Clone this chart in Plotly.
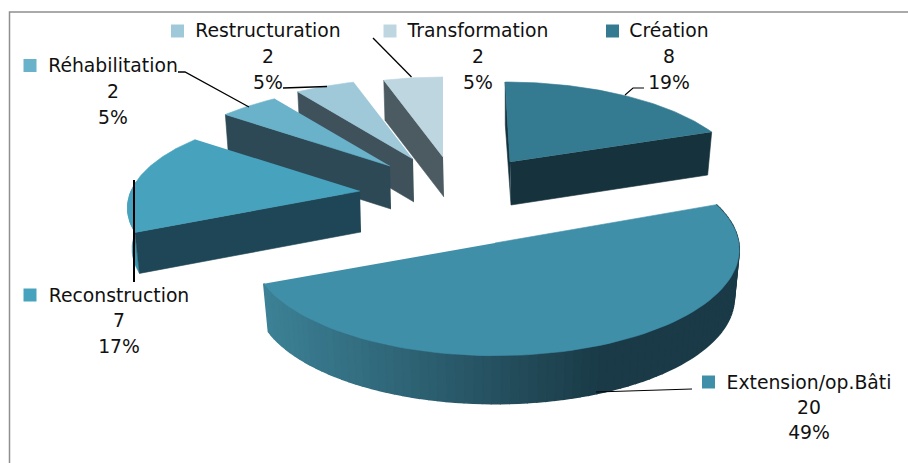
import numpy as np
import plotly.graph_objects as go

# Operations by type (clockwise from twelve o'clock)
categories = ["Création", "Extension/op.Bâti", "Reconstruction",
              "Réhabilitation", "Restructuration", "Transformation"]
counts = [8, 20, 7, 2, 2, 2]
shares = ["19%", "49%", "17%", "5%", "5%", "5%"]

top_colors = ["#347b92", "#408fa9", "#46a2bd", "#69b2ca", "#9fc9d9", "#bdd6e0"]
cut_colors = ["#16333d", "#1a3a47", "#1f4656", "#2c4955", "#3f525c", "#4c5a62"]

# Projection of each exploded slice: apex, radii, perspective, shear, thickness
PROJ = {
    "Création":          dict(cx=510, cy=162, rx=229, ry=94, k=0.175, shear=0.06, depth=43),
    "Extension/op.Bâti": dict(cx=495, cy=239, rx=243, ry=105, k=0.10, shear=0.0, depth=48, apex_lift=-4),
    "Reconstruction":    dict(cx=360, cy=191, rx=229, ry=94, k=0.175, shear=0.0, depth=41),
    "Réhabilitation":    dict(cx=390, cy=166, rx=229, ry=94, k=0.175, shear=0.0, depth=43),
    "Restructuration":   dict(cx=413, cy=159, rx=229, ry=94, k=0.175, shear=0.0, depth=43),
    "Transformation":    dict(cx=443, cy=157, rx=229, ry=94, k=0.175, shear=0.0, depth=40),
}
# Label blocks: swatch centre, text centre, first row and row spacing
LABELS = {
    "Création":          dict(sw=(612.5, 31), tx=669, ty=32, row=26),
    "Extension/op.Bâti": dict(sw=(708.5, 382), tx=809, ty=384, row=25),
    "Reconstruction":    dict(sw=(30, 295), tx=119, ty=297, row=25.5),
    "Réhabilitation":    dict(sw=(30, 65.5), tx=113, ty=67, row=26),
    "Restructuration":   dict(sw=(177.5, 31), tx=268, ty=32, row=26),
    "Transformation":    dict(sw=(390, 31), tx=478, ty=32, row=26),
}
LEADERS = [
    ([373, 411.5], [38, 77], 1.3),
    ([283, 327], [88, 86.5], 1.3),
    ([178, 185, 249], [72, 72, 107], 1.3),
    ([134, 134], [180, 282], 2),
    ([625, 633, 644], [95, 88, 88], 1.1),
    ([596, 692], [392, 389], 1.1),
]
BOTTOM_SCALE = 0.98
GRADIENT_X = [264, 440, 560, 600, 740]
GRADIENT_RGB = np.array([[61, 130, 151], [43, 93, 110], [31, 67, 80], [26, 58, 71], [26, 58, 71]])


def project(p, deg, scale=1.0, drop=0.0):
    """Map pie angles (clockwise from the top) onto the tilted disc of a slice."""
    t = np.radians(deg)
    w = 1 + p["k"] * np.cos(t)
    y_up = p["ry"] * np.cos(t) / w
    x = p["cx"] + scale * (p["rx"] * np.sin(t) / w - p["shear"] * y_up)
    return x, p["cy"] - y_up + drop


def poly(fig, xs, ys, color, edge=0.6):
    fig.add_trace(go.Scatter(x=list(xs), y=list(ys), mode="lines", fill="toself",
                             fillcolor=color, line=dict(color=color, width=edge),
                             hoverinfo="skip", showlegend=False))


def cut_face(fig, p, deg, color):
    ex, ey = project(p, deg)
    bx, by = project(p, deg, BOTTOM_SCALE, p["depth"])
    poly(fig, [p["cx"], ex, bx, p["cx"] + 1], [p["cy"], ey, by, p["cy"] + p["depth"]], color)


fig = go.Figure()

total = sum(counts)
edges = np.cumsum([0] + counts) / total * 360
spans = {c: (edges[i], edges[i + 1]) for i, c in enumerate(categories)}

# Back slices first, so nearer ones paint over them
for i in [5, 4, 3, 2, 0, 1]:
    name = categories[i]
    p = PROJ[name]
    a, b = spans[name]
    if name == "Extension/op.Bâti":
        # Rim shaded from lit left to dark right
        steps = np.linspace(a, b, 90)
        for s0, s1 in zip(steps[:-1], steps[1:]):
            x0, y0 = project(p, np.array([s0, s1]))
            x1, y1 = project(p, np.array([s1, s0]), BOTTOM_SCALE, p["depth"])
            mid = (x0.mean() + x1.mean()) / 2
            rgb = [int(np.interp(mid, GRADIENT_X, GRADIENT_RGB[:, c])) for c in range(3)]
            poly(fig, np.r_[x0, x1], np.r_[y0, y1], f"rgb({rgb[0]},{rgb[1]},{rgb[2]})", edge=1.6)
    elif name == "Reconstruction":
        rim = np.linspace(a, a + 30, 16)
        x0, y0 = project(p, rim)
        x1, y1 = project(p, rim[::-1], BOTTOM_SCALE, p["depth"])
        poly(fig, np.r_[x0, x1], np.r_[y0, y1], "#3b96b0")
        cut_face(fig, p, a, cut_colors[i])
    elif name == "Création":
        cut_face(fig, p, a, cut_colors[i])
        cut_face(fig, p, b, cut_colors[i])
    else:
        cut_face(fig, p, a, cut_colors[i])
    arc = np.linspace(a, b, 80)
    ax, ay = project(p, arc)
    apex_y = p["cy"] - p.get("apex_lift", 0)
    poly(fig, np.r_[p["cx"], ax], np.r_[apex_y, ay], top_colors[i])

# Leader lines
for lx, ly, w in LEADERS:
    fig.add_trace(go.Scatter(x=lx, y=ly, mode="lines", line=dict(color="black", width=w),
                             hoverinfo="skip", showlegend=False))

# Swatches and three-row labels
for i, name in enumerate(categories):
    lab = LABELS[name]
    fig.add_trace(go.Scatter(x=[lab["sw"][0]], y=[lab["sw"][1]], mode="markers",
                             marker=dict(symbol="square", size=13, color=top_colors[i]),
                             hoverinfo="skip", showlegend=False))
    fig.add_trace(go.Scatter(
        x=[lab["tx"]] * 3,
        y=[lab["ty"], lab["ty"] + lab["row"], lab["ty"] + 2 * lab["row"]],
        mode="text", text=[name, str(counts[i]), shares[i]], textposition="middle center",
        textfont=dict(family="DejaVu Sans", size=18.8, color="#111111"),
        hoverinfo="skip", showlegend=False))

# Chart frame, open towards the right and bottom
fig.add_trace(go.Scatter(x=[9.5, 9.5, 908], y=[463, 12, 12], mode="lines",
                         line=dict(color="#8f8f8f", width=1.5),
                         hoverinfo="skip", showlegend=False))

fig.update_layout(
    width=908, height=463, margin=dict(l=0, r=0, t=0, b=0),
    paper_bgcolor="white", plot_bgcolor="white", showlegend=False,
    xaxis=dict(range=[0, 908], visible=False, fixedrange=True),
    yaxis=dict(range=[463, 0], visible=False, fixedrange=True),
)
fig.write_html("out.html", config={"displayModeBar": False})
